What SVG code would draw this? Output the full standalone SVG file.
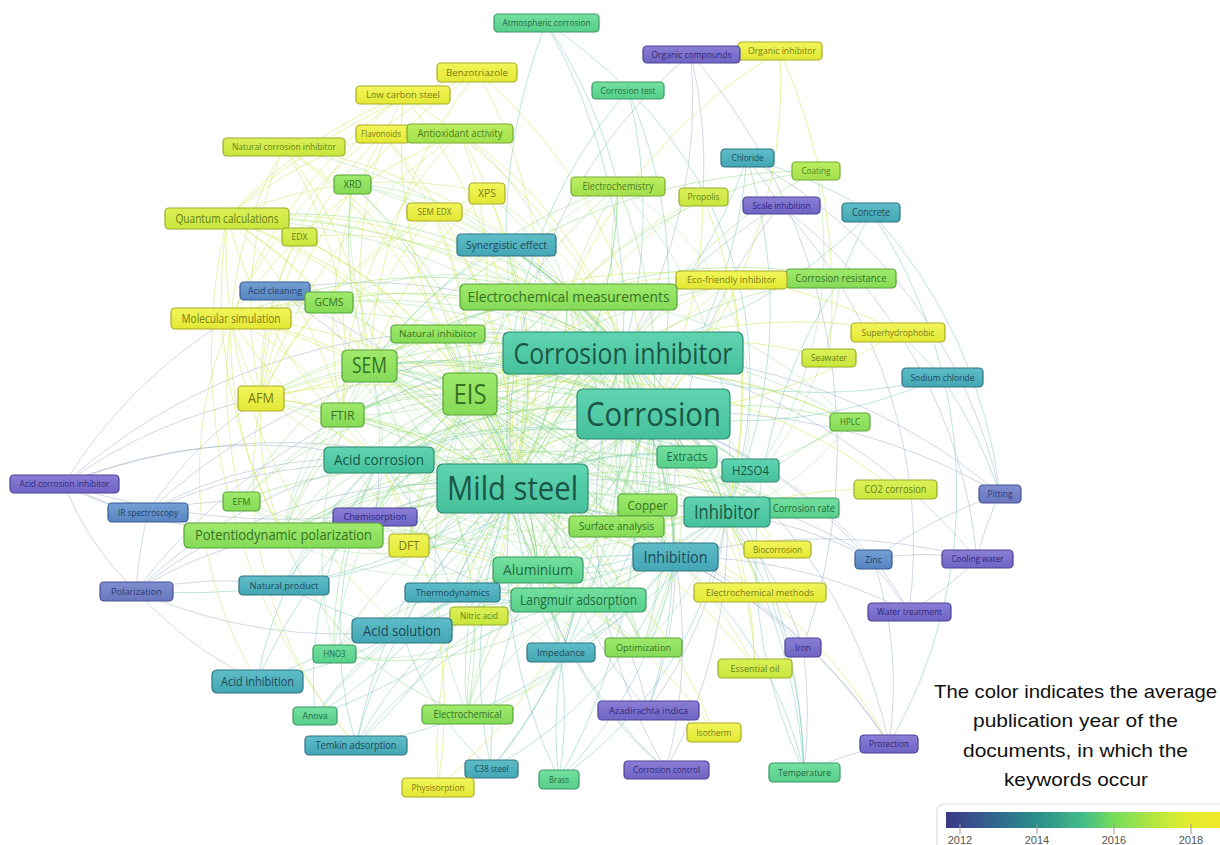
<svg xmlns="http://www.w3.org/2000/svg" width="1220" height="845" viewBox="0 0 1220 845">
<defs>
<style>
.e path{fill:none;stroke-width:1}
.ey{stroke:#cfe84c;stroke-opacity:.5}
.ey2{stroke:#c2e252;stroke-opacity:.42}
.eg{stroke:#7fd46a;stroke-opacity:.42}
.eg2{stroke:#74cf78;stroke-opacity:.32}
.eg3{stroke:#86d870;stroke-opacity:.3}
.et{stroke:#58b8aa;stroke-opacity:.38}
.eb{stroke:#8ea2c4;stroke-opacity:.42}
.n rect{stroke-width:1.2}
.n text{font-family:"Open Sans","Liberation Sans",sans-serif;text-anchor:middle}
.Y rect{fill:url(#gY);stroke:#a9ab26}.Y text{fill:#7a7c16}
.YG rect{fill:url(#gYG);stroke:#95ad2a}.YG text{fill:#667f18}
.LG rect{fill:url(#gLG);stroke:#76aa34}.LG text{fill:#4a801c}
.G rect{fill:url(#gG);stroke:#58a43a}.G text{fill:#357222}
.SG rect{fill:url(#gSG);stroke:#3a9864}.SG text{fill:#1f6a40}
.T rect{fill:url(#gT);stroke:#2f8a72}.T text{fill:#1a5646}
.TB rect{fill:url(#gTB);stroke:#2e7482}.TB text{fill:#1c4a58}
.B rect{fill:url(#gB);stroke:#3a5c90}.B text{fill:#243e68}
.BP rect{fill:url(#gBP);stroke:#465294}.BP text{fill:#2c376e}
.P rect{fill:url(#gP);stroke:#4b4296}.P text{fill:#2e2676}
.lg{font-family:"Liberation Sans","Open Sans",sans-serif;font-size:19px;fill:#111;text-anchor:middle}
.tk{font-family:"Liberation Sans",sans-serif;font-size:11px;fill:#555;text-anchor:middle}
</style>
<linearGradient id="gY" x1="0" y1="0" x2="0" y2="1"><stop offset="0" stop-color="#f2f55a"/><stop offset="1" stop-color="#e2e834"/></linearGradient>
<linearGradient id="gYG" x1="0" y1="0" x2="0" y2="1"><stop offset="0" stop-color="#dcf058"/><stop offset="1" stop-color="#c8e63c"/></linearGradient>
<linearGradient id="gLG" x1="0" y1="0" x2="0" y2="1"><stop offset="0" stop-color="#bcee62"/><stop offset="1" stop-color="#a2e04a"/></linearGradient>
<linearGradient id="gG" x1="0" y1="0" x2="0" y2="1"><stop offset="0" stop-color="#a0ea6c"/><stop offset="1" stop-color="#84da56"/></linearGradient>
<linearGradient id="gSG" x1="0" y1="0" x2="0" y2="1"><stop offset="0" stop-color="#74e0a0"/><stop offset="1" stop-color="#56cf8a"/></linearGradient>
<linearGradient id="gT" x1="0" y1="0" x2="0" y2="1"><stop offset="0" stop-color="#5fd4b0"/><stop offset="1" stop-color="#46c09c"/></linearGradient>
<linearGradient id="gTB" x1="0" y1="0" x2="0" y2="1"><stop offset="0" stop-color="#5ebdc8"/><stop offset="1" stop-color="#44a6b4"/></linearGradient>
<linearGradient id="gB" x1="0" y1="0" x2="0" y2="1"><stop offset="0" stop-color="#72a0d4"/><stop offset="1" stop-color="#5684c0"/></linearGradient>
<linearGradient id="gBP" x1="0" y1="0" x2="0" y2="1"><stop offset="0" stop-color="#808ed0"/><stop offset="1" stop-color="#6876be"/></linearGradient>
<linearGradient id="gP" x1="0" y1="0" x2="0" y2="1"><stop offset="0" stop-color="#8a7ed6"/><stop offset="1" stop-color="#7064c4"/></linearGradient>
<linearGradient id="gBar" gradientUnits="userSpaceOnUse" x1="946" y1="0" x2="1220" y2="0"><stop offset="0" stop-color="#3c3a84"/><stop offset="0.12" stop-color="#35578e"/><stop offset="0.33" stop-color="#2a8e8a"/><stop offset="0.5" stop-color="#44bc88"/><stop offset="0.61" stop-color="#74dc5a"/><stop offset="0.8" stop-color="#c6ea3a"/><stop offset="0.9" stop-color="#e6ea2e"/><stop offset="1" stop-color="#f0ea28"/></linearGradient>
</defs>
<rect width="1220" height="845" fill="#fff"/>
<g id="connectors" class="e">
<path class="eb" d="M64 484A500 500 0 0 1 261 398M64 484A500 500 0 0 1 231 318M64 484A300 300 0 0 0 136 591M64 484A200 200 0 0 0 148 512M64 484A600 600 0 0 1 623 353M64 484A600 600 0 0 1 512 488M64 484A700 700 0 0 0 653 414M64 484A500 500 0 0 1 379 460M64 484A500 500 0 0 0 283 535M148 512A400 400 0 0 1 261 398M148 512A400 400 0 0 1 379 460M148 512A500 500 0 0 1 512 488M148 512A500 500 0 0 0 283 535M148 512A500 500 0 0 0 136 591M148 512A400 400 0 0 1 241 501M148 512A600 600 0 0 1 623 353M136 591A500 500 0 0 1 379 460M136 591A500 500 0 0 1 512 488M136 591A400 400 0 0 1 283 535M136 591A400 400 0 0 0 257 681M136 591A400 400 0 0 1 284 585M136 591A600 600 0 0 1 623 353M136 591A500 500 0 0 0 402 630M275 291A500 500 0 0 1 512 488M275 291A400 400 0 0 1 370 366M275 291A500 500 0 0 1 623 353M375 517A300 300 0 0 1 512 488M375 517A300 300 0 0 0 379 460M375 517A300 300 0 0 0 578 600M691 54A600 600 0 0 1 803 647M691 54A500 500 0 0 1 623 353M691 54A500 500 0 0 1 703 197M691 54A500 500 0 0 0 512 488M780 205A500 500 0 0 0 747 158M780 205A500 500 0 0 1 977 559M780 205A500 500 0 0 1 909 612M780 205A500 500 0 0 0 623 353M780 205A500 500 0 0 0 675 557M1000 494A500 500 0 0 0 873 559M1000 494A300 300 0 0 0 977 559M1000 494A500 500 0 0 0 747 158M1000 494A600 600 0 0 0 653 414M1000 494A600 600 0 0 0 623 353M873 559A300 300 0 0 1 977 559M873 559A300 300 0 0 1 909 612M873 559A400 400 0 0 1 889 744M873 559A500 500 0 0 0 653 414M873 559A500 500 0 0 0 727 512M873 559A500 500 0 0 0 512 488M977 559A300 300 0 0 1 909 612M977 559A600 600 0 0 0 623 353M977 559A600 600 0 0 0 675 557M909 612A500 500 0 0 0 653 414M909 612A500 500 0 0 0 675 557M889 744A500 500 0 0 0 653 414M889 744A500 500 0 0 0 675 557M889 744A600 600 0 0 0 512 488M889 744A500 500 0 0 0 804 772M803 647A400 400 0 0 0 727 512M803 647A400 400 0 0 0 675 557M803 647A500 500 0 0 1 804 772M648 710A400 400 0 0 0 512 488M648 710A400 400 0 0 0 727 512M648 710A400 400 0 0 1 578 600M648 710A400 400 0 0 0 675 557M666 770A500 500 0 0 0 675 557M666 770A500 500 0 0 0 727 512M666 770A500 500 0 0 1 512 488M666 770A500 500 0 0 1 623 353"/>
<path class="et" d="M623 353A600 600 0 0 0 546 23M623 353A500 500 0 0 0 628 90M623 353A500 500 0 0 0 747 158M623 353A500 500 0 0 0 871 212M623 353A600 600 0 0 1 804 772M623 353A600 600 0 0 1 559 779M623 353A600 600 0 0 1 491 769M623 353A500 500 0 0 0 506 245M623 353A600 600 0 0 0 284 585M623 353A600 600 0 0 0 257 681M623 353A600 600 0 0 0 356 745M623 353A500 500 0 0 0 942 377M653 414A500 500 0 0 0 942 377M653 414A600 600 0 0 1 804 772M653 414A500 500 0 0 1 648 710M653 414A600 600 0 0 1 315 716M653 414A700 700 0 0 1 136 591M512 488A500 500 0 0 1 284 585M512 488A500 500 0 0 1 257 681M512 488A500 500 0 0 1 315 716M512 488A500 500 0 0 1 356 745M512 488A500 500 0 0 0 491 769M512 488A500 500 0 0 0 559 779M512 488A400 400 0 0 0 561 652M512 488A400 400 0 0 0 452 592M512 488A400 400 0 0 0 402 630M512 488A300 300 0 0 1 687 457M512 488A300 300 0 0 1 750 470M379 460A400 400 0 0 0 284 585M379 460A400 400 0 0 0 257 681M379 460A400 400 0 0 0 315 716M379 460A400 400 0 0 0 356 745M379 460A400 400 0 0 1 452 592M379 460A400 400 0 0 1 687 457M379 460A500 500 0 0 1 750 470M402 630A400 400 0 0 1 257 681M402 630A400 400 0 0 0 356 745M402 630A300 300 0 0 0 315 716M402 630A400 400 0 0 1 284 585M402 630A300 300 0 0 0 491 769M402 630A400 400 0 0 1 578 600M402 630A400 400 0 0 1 675 557M538 570A400 400 0 0 0 402 630M538 570A400 400 0 0 0 315 716M538 570A400 400 0 0 0 356 745M538 570A400 400 0 0 0 491 769M538 570A400 400 0 0 1 559 779M538 570A400 400 0 0 0 666 770M578 600A400 400 0 0 0 356 745M578 600A400 400 0 0 1 491 769M578 600A400 400 0 0 0 559 779M578 600A400 400 0 0 1 452 592M578 600A400 400 0 0 0 561 652M675 557A400 400 0 0 0 506 245M675 557A400 400 0 0 1 804 772M675 557A400 400 0 0 1 561 652M675 557A400 400 0 0 1 559 779M675 557A400 400 0 0 1 491 769M675 557A500 500 0 0 1 356 745M727 512A400 400 0 0 0 628 90M727 512A500 500 0 0 0 747 158M727 512A500 500 0 0 1 804 772M727 512A400 400 0 0 1 559 779M727 512A400 400 0 0 1 561 652M727 512A400 400 0 0 1 452 592M727 512A300 300 0 0 1 538 570M546 23A500 500 0 0 1 618 186M546 23A600 600 0 0 0 506 245M546 23A500 500 0 0 1 628 90M628 90A500 500 0 0 1 653 414M628 90A500 500 0 0 0 512 488M747 158A500 500 0 0 1 871 212M747 158A500 500 0 0 1 653 414M871 212A500 500 0 0 1 1000 494M871 212A500 500 0 0 0 841 278M871 212A500 500 0 0 1 889 744M942 377A500 500 0 0 1 1000 494M942 377A500 500 0 0 0 898 332M804 772A500 500 0 0 1 841 278M506 245A400 400 0 0 1 512 488M506 245A400 400 0 0 1 653 414M506 245A400 400 0 0 0 370 366M506 245A500 500 0 0 1 727 512M561 652A300 300 0 0 0 653 414M452 592A300 300 0 0 1 653 414M750 470A300 300 0 0 0 653 414M687 457A300 300 0 0 0 623 353"/>
<path class="eg" d="M370 366A400 400 0 0 1 512 488M370 366A300 300 0 0 1 470 394M342 415A400 400 0 0 1 512 488M342 415A400 400 0 0 1 470 394M352 184A500 500 0 0 1 512 488M352 184A400 400 0 0 1 470 394M352 184A400 400 0 0 0 370 366M329 302A400 400 0 0 1 512 488M329 302A400 400 0 0 1 623 353M438 334A400 400 0 0 1 512 488M438 334A400 400 0 0 1 653 414M568 297A400 400 0 0 1 512 488M568 297A400 400 0 0 0 470 394M568 297A400 400 0 0 0 370 366M568 297A400 400 0 0 1 727 512M568 297A400 400 0 0 1 578 600M568 297A400 400 0 0 0 283 535M568 297A500 500 0 0 0 231 318M568 297A500 500 0 0 0 227 218M568 297A400 400 0 0 1 538 570M470 394A400 400 0 0 1 653 414M470 394A400 400 0 0 1 623 353M470 394A400 400 0 0 1 512 488M470 394A400 400 0 0 0 283 535M470 394A400 400 0 0 0 375 517M470 394A400 400 0 0 1 578 600M470 394A500 500 0 0 1 643 647M470 394A500 500 0 0 1 850 422M470 394A600 600 0 0 1 841 278M470 394A500 500 0 0 1 618 186M618 186A500 500 0 0 1 512 488M618 186A500 500 0 0 1 653 414M618 186A500 500 0 0 0 370 366M283 535A500 500 0 0 1 727 512M283 535A500 500 0 0 1 675 557M283 535A500 500 0 0 1 792 508M283 535A400 400 0 0 1 578 600M283 535A400 400 0 0 1 512 488M283 535A400 400 0 0 1 653 414M283 535A300 300 0 0 0 467 714M241 501A400 400 0 0 1 512 488M241 501A400 400 0 0 1 470 394M241 501A400 400 0 0 1 370 366M647 505A400 400 0 0 0 512 488M647 505A400 400 0 0 0 470 394M647 505A400 400 0 0 1 727 512M616 526A400 400 0 0 0 512 488M616 526A400 400 0 0 0 370 366M616 526A400 400 0 0 1 653 414M643 647A400 400 0 0 0 512 488M643 647A400 400 0 0 1 578 600M643 647A400 400 0 0 0 675 557M467 714A400 400 0 0 1 512 488M467 714A400 400 0 0 1 578 600M467 714A400 400 0 0 0 370 366M467 714A400 400 0 0 1 538 570M334 654A400 400 0 0 1 512 488M334 654A400 400 0 0 1 379 460M334 654A400 400 0 0 1 538 570M334 654A300 300 0 0 0 578 600M841 278A500 500 0 0 0 623 353M841 278A500 500 0 0 0 568 297M816 171A500 500 0 0 0 623 353M816 171A600 600 0 0 0 370 366M816 171A400 400 0 0 0 568 297M850 422A400 400 0 0 0 653 414M850 422A400 400 0 0 0 727 512M792 508A400 400 0 0 0 653 414M792 508A400 400 0 0 0 512 488M538 570A300 300 0 0 0 512 488M578 600A300 300 0 0 0 512 488M578 600A300 300 0 0 0 653 414M578 600A300 300 0 0 1 675 557M379 460A300 300 0 0 1 512 488M379 460A300 300 0 0 1 470 394M379 460A400 400 0 0 1 653 414M379 460A500 500 0 0 1 727 512M370 366A500 500 0 0 1 653 414M370 366A500 500 0 0 1 623 353M512 488A400 400 0 0 1 623 353M512 488A400 400 0 0 0 653 414M623 353A300 300 0 0 1 653 414M623 353A400 400 0 0 1 727 512M653 414A300 300 0 0 1 727 512M653 414A400 400 0 0 1 675 557M512 488A400 400 0 0 0 675 557M512 488A400 400 0 0 0 727 512M438 334A300 300 0 0 0 370 366M438 334A300 300 0 0 1 470 394M438 334A400 400 0 0 0 283 535M568 297A300 300 0 0 1 653 414M568 297A300 300 0 0 1 623 353M470 394A300 300 0 0 1 538 570M470 394A300 300 0 0 1 647 505M370 366A400 400 0 0 1 578 600M370 366A400 400 0 0 1 538 570M342 415A400 400 0 0 1 578 600M342 415A400 400 0 0 1 653 414"/>
<path class="eg2" d="M623 353A450 450 0 0 0 342 415M623 353A450 450 0 0 0 261 398M623 353A450 450 0 0 0 352 184M623 353A350 350 0 0 0 438 334M623 353A450 450 0 0 1 283 535M623 353A350 350 0 0 0 379 460M623 353A250 250 0 0 1 647 505M623 353A300 300 0 0 1 616 526M623 353A400 400 0 0 0 578 600M623 353A400 400 0 0 0 538 570M623 353A400 400 0 0 1 643 647M623 353A400 400 0 0 1 850 422M623 353A400 400 0 0 1 618 186M623 353A500 500 0 0 0 467 714M623 353A500 500 0 0 0 241 501M623 353A600 600 0 0 0 227 218M623 353A600 600 0 0 0 231 318M623 353A600 600 0 0 0 284 147M623 353A300 300 0 0 1 687 457M623 353A300 300 0 0 1 750 470M623 353A400 400 0 0 0 409 545M623 353A400 400 0 0 0 375 517M623 353A400 400 0 0 0 561 652M623 353A400 400 0 0 0 402 630M653 414A450 450 0 0 0 370 366M653 414A450 450 0 0 0 261 398M653 414A450 450 0 0 0 329 302M653 414A500 500 0 0 0 352 184M653 414A300 300 0 0 0 647 505M653 414A300 300 0 0 0 616 526M653 414A400 400 0 0 0 538 570M653 414A400 400 0 0 1 643 647M653 414A300 300 0 0 1 687 457M653 414A300 300 0 0 1 750 470M653 414A400 400 0 0 0 409 545M653 414A400 400 0 0 0 375 517M653 414A400 400 0 0 0 402 630M653 414A500 500 0 0 0 467 714M653 414A600 600 0 0 0 227 218M653 414A600 600 0 0 0 231 318M653 414A450 450 0 0 0 438 334M512 488A300 300 0 0 0 438 334M512 488A300 300 0 0 0 409 545M512 488A300 300 0 0 0 375 517M512 488A300 300 0 0 1 538 570M512 488A300 300 0 0 1 578 600M512 488A400 400 0 0 0 568 297M512 488A400 400 0 0 1 643 647M512 488A400 400 0 0 1 616 526M512 488A500 500 0 0 0 792 508M512 488A500 500 0 0 0 850 422M512 488A500 500 0 0 0 618 186M512 488A300 300 0 0 0 342 415M512 488A300 300 0 0 0 283 535M512 488A300 300 0 0 1 241 501M470 394A300 300 0 0 0 342 415M470 394A300 300 0 0 1 261 398M470 394A300 300 0 0 0 409 545M470 394A300 300 0 0 1 538 570M470 394A300 300 0 0 1 616 526M470 394A400 400 0 0 0 467 714M470 394A400 400 0 0 1 727 512M470 394A400 400 0 0 1 675 557M470 394A400 400 0 0 0 334 654M370 366A300 300 0 0 0 342 415M370 366A300 300 0 0 1 409 545M370 366A300 300 0 0 1 375 517M370 366A400 400 0 0 1 727 512M370 366A400 400 0 0 1 616 526M370 366A400 400 0 0 1 647 505M370 366A500 500 0 0 1 643 647M370 366A400 400 0 0 0 334 654M370 366A400 400 0 0 1 568 297M379 460A300 300 0 0 0 342 415M379 460A300 300 0 0 0 370 366M379 460A400 400 0 0 1 578 600M379 460A400 400 0 0 1 538 570M379 460A400 400 0 0 1 623 353M379 460A400 400 0 0 1 675 557M379 460A500 500 0 0 1 647 505M727 512A300 300 0 0 0 647 505M727 512A300 300 0 0 1 616 526M727 512A400 400 0 0 1 578 600M727 512A400 400 0 0 1 643 647M727 512A400 400 0 0 0 618 186M727 512A400 400 0 0 0 841 278M727 512A400 400 0 0 0 816 171M675 557A300 300 0 0 0 647 505M675 557A300 300 0 0 0 616 526M675 557A300 300 0 0 1 538 570M675 557A400 400 0 0 0 568 297M675 557A400 400 0 0 0 470 394M675 557A400 400 0 0 0 370 366M578 600A300 300 0 0 0 470 394M578 600A300 300 0 0 0 409 545M578 600A300 300 0 0 0 616 526M578 600A300 300 0 0 0 647 505M578 600A300 300 0 0 1 643 647M578 600A400 400 0 0 0 727 512M538 570A300 300 0 0 0 470 394M538 570A300 300 0 0 1 616 526M538 570A400 400 0 0 0 370 366M538 570A400 400 0 0 0 283 535M568 297A300 300 0 0 0 438 334M568 297A300 300 0 0 0 329 302M568 297A300 300 0 0 0 352 184M568 297A300 300 0 0 0 342 415M568 297A400 400 0 0 1 647 505M568 297A400 400 0 0 1 616 526M568 297A400 400 0 0 0 409 545M568 297A400 400 0 0 1 850 422M568 297A400 400 0 0 1 618 186M568 297A300 300 0 0 0 487 193M568 297A300 300 0 0 0 460 133M283 535A300 300 0 0 1 409 545M283 535A300 300 0 0 1 375 517M283 535A300 300 0 0 1 452 592M283 535A300 300 0 0 1 342 415M283 535A300 300 0 0 1 370 366M283 535A400 400 0 0 0 241 501"/>
<path class="eg3" d="M512 488A200 200 0 0 1 623 353M512 488A200 200 0 0 0 623 353M470 394A200 200 0 0 1 653 414M470 394A180 180 0 0 0 653 414M370 366A250 250 0 0 0 653 414M379 460A250 250 0 0 0 653 414M379 460A250 250 0 0 0 623 353M568 297A200 200 0 0 0 512 488M568 297A200 200 0 0 1 470 394M568 297A250 250 0 0 0 578 600M578 600A200 200 0 0 1 623 353M538 570A200 200 0 0 1 623 353M538 570A250 250 0 0 1 653 414M675 557A200 200 0 0 1 623 353M727 512A200 200 0 0 0 623 353M647 505A200 200 0 0 1 470 394M616 526A200 200 0 0 1 470 394M616 526A200 200 0 0 0 623 353M438 334A200 200 0 0 0 623 353M438 334A250 250 0 0 0 653 414M342 415A250 250 0 0 0 623 353M342 415A250 250 0 0 1 538 570M370 366A250 250 0 0 1 538 570M409 545A200 200 0 0 0 623 353M409 545A200 200 0 0 1 653 414M375 517A200 200 0 0 0 653 414M452 592A200 200 0 0 0 623 353M402 630A250 250 0 0 0 623 353M402 630A250 250 0 0 0 653 414M402 630A200 200 0 0 0 470 394M561 652A200 200 0 0 1 470 394M643 647A200 200 0 0 1 470 394M643 647A250 250 0 0 0 623 353M687 457A200 200 0 0 1 470 394M750 470A250 250 0 0 1 470 394M750 470A250 250 0 0 1 379 460M687 457A200 200 0 0 1 379 460M283 535A250 250 0 0 0 623 353M283 535A250 250 0 0 0 653 414M283 535A250 250 0 0 0 470 394M241 501A250 250 0 0 0 623 353M329 302A250 250 0 0 0 512 488M352 184A300 300 0 0 0 512 488M506 245A200 200 0 0 1 512 488M506 245A200 200 0 0 0 653 414M506 245A200 200 0 0 1 379 460M618 186A250 250 0 0 0 470 394M618 186A250 250 0 0 1 727 512M792 508A200 200 0 0 1 623 353M850 422A250 250 0 0 1 512 488M467 714A250 250 0 0 0 623 353M467 714A250 250 0 0 0 653 414M334 654A250 250 0 0 0 623 353M479 616A200 200 0 0 0 623 353M479 616A200 200 0 0 0 470 394"/>
<path class="ey" d="M231 318A500 500 0 0 1 512 488M227 218A500 500 0 0 1 512 488M227 218A500 500 0 0 1 470 394M231 318A500 500 0 0 1 470 394M261 398A500 500 0 0 1 512 488M261 398A500 500 0 0 1 470 394M261 398A400 400 0 0 0 370 366M227 218A400 400 0 0 1 370 366M231 318A400 400 0 0 1 370 366M284 147A500 500 0 0 1 512 488M284 147A500 500 0 0 1 470 394M284 147A400 400 0 0 1 370 366M403 95A500 500 0 0 1 512 488M403 95A500 500 0 0 0 470 394M403 95A600 600 0 0 1 653 414M403 95A500 500 0 0 0 227 218M403 95A500 500 0 0 0 231 318M477 72A500 500 0 0 1 653 414M477 72A500 500 0 0 0 370 366M477 72A500 500 0 0 0 261 398M477 72A600 600 0 0 0 227 218M383 134A500 500 0 0 1 512 488M383 134A400 400 0 0 0 261 398M460 133A500 500 0 0 1 512 488M460 133A400 400 0 0 1 623 353M460 133A500 500 0 0 0 231 318M487 193A400 400 0 0 1 512 488M487 193A400 400 0 0 0 370 366M434 212A400 400 0 0 1 512 488M434 212A400 400 0 0 0 261 398M299 237A400 400 0 0 1 512 488M299 237A400 400 0 0 1 470 394M731 280A500 500 0 0 0 470 394M731 280A500 500 0 0 1 727 512M731 280A400 400 0 0 1 653 414M780 51A500 500 0 0 1 653 414M780 51A600 600 0 0 1 829 358M780 51A500 500 0 0 0 568 297M898 332A500 500 0 0 0 623 353M898 332A500 500 0 0 1 653 414M898 332A500 500 0 0 0 370 366M777 549A400 400 0 0 0 653 414M777 549A500 500 0 0 0 470 394M760 592A500 500 0 0 0 512 488M760 592A500 500 0 0 0 653 414M760 592A500 500 0 0 1 889 744M755 668A500 500 0 0 0 512 488M755 668A500 500 0 0 0 727 512M714 732A500 500 0 0 0 512 488M714 732A500 500 0 0 0 578 600M438 787A500 500 0 0 1 512 488M438 787A500 500 0 0 0 379 460M438 787A500 500 0 0 0 578 600M409 545A400 400 0 0 1 470 394M409 545A400 400 0 0 0 379 460M409 545A400 400 0 0 1 578 600M479 616A400 400 0 0 0 512 488M479 616A400 400 0 0 1 727 512M703 197A500 500 0 0 1 653 414M703 197A500 500 0 0 1 727 512M895 489A500 500 0 0 0 470 394M895 489A500 500 0 0 0 727 512M829 358A500 500 0 0 0 470 394M850 422A500 500 0 0 0 470 394M227 218A500 500 0 0 0 283 535M231 318A400 400 0 0 0 283 535M227 218A500 500 0 0 0 379 460M261 398A300 300 0 0 0 283 535M231 318A400 400 0 0 0 379 460"/>
<path class="ey2" d="M227 218A400 400 0 0 1 342 415M227 218A400 400 0 0 1 329 302M227 218A300 300 0 0 1 299 237M227 218A500 500 0 0 1 623 353M227 218A500 500 0 0 1 653 414M231 318A300 300 0 0 1 342 415M231 318A300 300 0 0 1 329 302M231 318A500 500 0 0 1 623 353M231 318A300 300 0 0 0 261 398M231 318A500 500 0 0 0 241 501M284 147A400 400 0 0 1 342 415M284 147A400 400 0 0 0 231 318M284 147A400 400 0 0 0 261 398M284 147A500 500 0 0 1 623 353M383 134A400 400 0 0 1 470 394M383 134A400 400 0 0 0 342 415M383 134A400 400 0 0 0 227 218M460 133A400 400 0 0 1 470 394M460 133A500 500 0 0 0 261 398M460 133A400 400 0 0 0 342 415M487 193A400 400 0 0 0 261 398M487 193A400 400 0 0 1 653 414M487 193A400 400 0 0 0 227 218M434 212A400 400 0 0 1 470 394M434 212A400 400 0 0 1 623 353M434 212A400 400 0 0 0 342 415M299 237A300 300 0 0 0 261 398M299 237A400 400 0 0 1 623 353M403 95A400 400 0 0 0 261 398M403 95A400 400 0 0 0 370 366M477 72A500 500 0 0 1 512 488M477 72A500 500 0 0 0 231 318M261 398A300 300 0 0 1 342 415M261 398A400 400 0 0 1 379 460M261 398A400 400 0 0 1 409 545M261 398A500 500 0 0 1 623 353M261 398A500 500 0 0 1 653 414M409 545A300 300 0 0 1 512 488M409 545A400 400 0 0 1 623 353M409 545A400 400 0 0 1 653 414M731 280A400 400 0 0 0 568 297M731 280A400 400 0 0 1 623 353M731 280A400 400 0 0 0 512 488M703 197A400 400 0 0 0 568 297M703 197A400 400 0 0 0 512 488M760 592A400 400 0 0 0 727 512M760 592A400 400 0 0 0 675 557M755 668A400 400 0 0 0 653 414M755 668A400 400 0 0 0 675 557M231 318A400 400 0 0 0 257 681M227 218A500 500 0 0 0 402 630M261 398A400 400 0 0 0 356 745M227 218A600 600 0 0 0 356 745"/>
</g>
<g id="nodes">
<g id="n-atmospheric-corrosion" class="n SG"><rect x="494" y="14" width="105" height="18" rx="4"/><text x="546.5" y="26.3" font-size="9.5" textLength="88" lengthAdjust="spacingAndGlyphs">Atmospheric corrosion</text></g>
<g id="n-organic-inhibitor" class="n Y"><rect x="738" y="42" width="84" height="18" rx="4"/><text x="782" y="54.3" font-size="9.5" textLength="68" lengthAdjust="spacingAndGlyphs">Organic inhibitor</text></g>
<g id="n-organic-compounds" class="n P"><rect x="643" y="46" width="97" height="17" rx="4"/><text x="691.5" y="57.8" font-size="9.5" textLength="80" lengthAdjust="spacingAndGlyphs">Organic compounds</text></g>
<g id="n-benzotriazole" class="n Y"><rect x="437" y="63" width="80" height="19" rx="4"/><text x="477" y="75.8" font-size="9.5" textLength="62" lengthAdjust="spacingAndGlyphs">Benzotriazole</text></g>
<g id="n-low-carbon-steel" class="n Y"><rect x="356" y="86" width="94" height="18" rx="4"/><text x="403" y="98.3" font-size="9.5" textLength="74" lengthAdjust="spacingAndGlyphs">Low carbon steel</text></g>
<g id="n-corrosion-test" class="n SG"><rect x="592" y="82" width="72" height="17" rx="4"/><text x="628" y="93.8" font-size="9.5" textLength="55" lengthAdjust="spacingAndGlyphs">Corrosion test</text></g>
<g id="n-flavonoids" class="n Y"><rect x="356" y="125" width="54" height="18" rx="4"/><text x="381" y="137.3" font-size="9.5" textLength="40" lengthAdjust="spacingAndGlyphs">Flavonoids</text></g>
<g id="n-antioxidant-activity" class="n LG"><rect x="407" y="124" width="106" height="19" rx="4"/><text x="460" y="137.2" font-size="10.5" textLength="85" lengthAdjust="spacingAndGlyphs">Antioxidant activity</text></g>
<g id="n-natural-corrosion-inhibitor" class="n YG"><rect x="223" y="138" width="122" height="18" rx="4"/><text x="284" y="150.3" font-size="9.5" textLength="104" lengthAdjust="spacingAndGlyphs">Natural corrosion inhibitor</text></g>
<g id="n-chloride" class="n TB"><rect x="721" y="149" width="53" height="18" rx="4"/><text x="747.5" y="161.3" font-size="9.5" textLength="32" lengthAdjust="spacingAndGlyphs">Chloride</text></g>
<g id="n-coating" class="n LG"><rect x="792" y="162" width="48" height="18" rx="4"/><text x="816" y="174.3" font-size="9.5" textLength="29" lengthAdjust="spacingAndGlyphs">Coating</text></g>
<g id="n-xrd" class="n G"><rect x="334" y="175" width="37" height="19" rx="4"/><text x="352.5" y="188" font-size="10" textLength="18" lengthAdjust="spacingAndGlyphs">XRD</text></g>
<g id="n-xps" class="n Y"><rect x="469" y="183" width="36" height="21" rx="4"/><text x="487" y="197.4" font-size="11" textLength="18" lengthAdjust="spacingAndGlyphs">XPS</text></g>
<g id="n-electrochemistry" class="n LG"><rect x="571" y="177" width="94" height="19" rx="4"/><text x="618" y="190.2" font-size="10.5" textLength="71" lengthAdjust="spacingAndGlyphs">Electrochemistry</text></g>
<g id="n-propolis" class="n YG"><rect x="679" y="188" width="49" height="18" rx="4"/><text x="703.5" y="200.3" font-size="9.5" textLength="32" lengthAdjust="spacingAndGlyphs">Propolis</text></g>
<g id="n-scale-inhibition" class="n P"><rect x="743" y="197" width="77" height="17" rx="4"/><text x="781.5" y="208.8" font-size="9.5" textLength="58" lengthAdjust="spacingAndGlyphs">Scale inhibition</text></g>
<g id="n-concrete" class="n TB"><rect x="842" y="203" width="58" height="19" rx="4"/><text x="871" y="216" font-size="10" textLength="38" lengthAdjust="spacingAndGlyphs">Concrete</text></g>
<g id="n-sem-edx" class="n Y"><rect x="407" y="203" width="55" height="18" rx="4"/><text x="434.5" y="215.3" font-size="9.5" textLength="34" lengthAdjust="spacingAndGlyphs">SEM EDX</text></g>
<g id="n-quantum-calculations" class="n YG"><rect x="165" y="208" width="124" height="21" rx="4"/><text x="227" y="222.7" font-size="12" textLength="103" lengthAdjust="spacingAndGlyphs">Quantum calculations</text></g>
<g id="n-edx" class="n YG"><rect x="282" y="228" width="35" height="18" rx="4"/><text x="299.5" y="240.3" font-size="9.5" textLength="16" lengthAdjust="spacingAndGlyphs">EDX</text></g>
<g id="n-synergistic-effect" class="n TB"><rect x="457" y="234" width="99" height="22" rx="4"/><text x="506.5" y="249" font-size="11.5" textLength="81" lengthAdjust="spacingAndGlyphs">Synergistic effect</text></g>
<g id="n-corrosion-resistance" class="n G"><rect x="786" y="269" width="110" height="19" rx="4"/><text x="841" y="282" font-size="10" textLength="91" lengthAdjust="spacingAndGlyphs">Corrosion resistance</text></g>
<g id="n-eco-friendly-inhibitor" class="n Y"><rect x="676" y="271" width="111" height="18" rx="4"/><text x="731.5" y="283.3" font-size="9.5" textLength="89" lengthAdjust="spacingAndGlyphs">Eco-friendly inhibitor</text></g>
<g id="n-acid-cleaning" class="n B"><rect x="240" y="282" width="70" height="18" rx="4"/><text x="275" y="294.2" font-size="9" textLength="54" lengthAdjust="spacingAndGlyphs">Acid cleaning</text></g>
<g id="n-gcms" class="n G"><rect x="305" y="292" width="48" height="21" rx="4"/><text x="329" y="306.4" font-size="11" textLength="29" lengthAdjust="spacingAndGlyphs">GCMS</text></g>
<g id="n-electrochemical-measurements" class="n G"><rect x="460" y="284" width="217" height="26" rx="5"/><text x="568.5" y="302.3" font-size="15" textLength="202" lengthAdjust="spacingAndGlyphs">Electrochemical measurements</text></g>
<g id="n-molecular-simulation" class="n Y"><rect x="171" y="308" width="120" height="21" rx="4"/><text x="231" y="322.7" font-size="12" textLength="99" lengthAdjust="spacingAndGlyphs">Molecular simulation</text></g>
<g id="n-natural-inhibitor" class="n G"><rect x="391" y="325" width="94" height="18" rx="4"/><text x="438" y="337.3" font-size="9.5" textLength="78" lengthAdjust="spacingAndGlyphs">Natural inhibitor</text></g>
<g id="n-superhydrophobic" class="n Y"><rect x="851" y="323" width="94" height="19" rx="4"/><text x="898" y="335.8" font-size="9.5" textLength="73" lengthAdjust="spacingAndGlyphs">Superhydrophobic</text></g>
<g id="n-corrosion-inhibitor" class="n T"><rect x="503" y="332" width="240" height="42" rx="6"/><text x="623" y="363.5" font-size="30" textLength="219" lengthAdjust="spacingAndGlyphs">Corrosion inhibitor</text></g>
<g id="n-sem" class="n G"><rect x="342" y="350" width="55" height="32" rx="5"/><text x="369.5" y="373.4" font-size="21" textLength="35" lengthAdjust="spacingAndGlyphs">SEM</text></g>
<g id="n-seawater" class="n YG"><rect x="802" y="349" width="54" height="18" rx="4"/><text x="829" y="361.3" font-size="9.5" textLength="36" lengthAdjust="spacingAndGlyphs">Seawater</text></g>
<g id="n-sodium-chloride" class="n TB"><rect x="902" y="368" width="81" height="19" rx="4"/><text x="942.5" y="380.8" font-size="9.5" textLength="64" lengthAdjust="spacingAndGlyphs">Sodium chloride</text></g>
<g id="n-eis" class="n G"><rect x="443" y="373" width="54" height="42" rx="5"/><text x="470" y="403.8" font-size="28" textLength="33" lengthAdjust="spacingAndGlyphs">EIS</text></g>
<g id="n-afm" class="n Y"><rect x="238" y="386" width="46" height="25" rx="4"/><text x="261" y="403.4" font-size="14" textLength="26" lengthAdjust="spacingAndGlyphs">AFM</text></g>
<g id="n-corrosion" class="n T"><rect x="577" y="389" width="153" height="50" rx="6"/><text x="653.5" y="425.5" font-size="33" textLength="135" lengthAdjust="spacingAndGlyphs">Corrosion</text></g>
<g id="n-ftir" class="n G"><rect x="321" y="403" width="43" height="24" rx="4"/><text x="342.5" y="419.6" font-size="13" textLength="24" lengthAdjust="spacingAndGlyphs">FTIR</text></g>
<g id="n-hplc" class="n G"><rect x="830" y="413" width="40" height="18" rx="4"/><text x="850" y="425.3" font-size="9.5" textLength="20" lengthAdjust="spacingAndGlyphs">HPLC</text></g>
<g id="n-acid-corrosion" class="n T"><rect x="324" y="447" width="110" height="26" rx="5"/><text x="379" y="465.3" font-size="15" textLength="90" lengthAdjust="spacingAndGlyphs">Acid corrosion</text></g>
<g id="n-extracts" class="n SG"><rect x="657" y="446" width="60" height="22" rx="4"/><text x="687" y="461.2" font-size="12" textLength="41" lengthAdjust="spacingAndGlyphs">Extracts</text></g>
<g id="n-h2so4" class="n T"><rect x="722" y="459" width="57" height="23" rx="4"/><text x="750.5" y="475.1" font-size="13" textLength="37" lengthAdjust="spacingAndGlyphs">H2SO4</text></g>
<g id="n-mild-steel" class="n T"><rect x="437" y="464" width="151" height="49" rx="6"/><text x="512.5" y="500" font-size="33" textLength="131" lengthAdjust="spacingAndGlyphs">Mild steel</text></g>
<g id="n-acid-corrosion-inhibitor" class="n P"><rect x="10" y="475" width="109" height="18" rx="4"/><text x="64.5" y="487.3" font-size="9.5" textLength="90" lengthAdjust="spacingAndGlyphs">Acid corrosion inhibitor</text></g>
<g id="n-co2-corrosion" class="n YG"><rect x="854" y="480" width="83" height="19" rx="4"/><text x="895.5" y="493" font-size="10" textLength="62" lengthAdjust="spacingAndGlyphs">CO2 corrosion</text></g>
<g id="n-pitting" class="n BP"><rect x="979" y="485" width="42" height="18" rx="4"/><text x="1000" y="497.3" font-size="9.5" textLength="25" lengthAdjust="spacingAndGlyphs">Pitting</text></g>
<g id="n-efm" class="n G"><rect x="223" y="492" width="37" height="19" rx="4"/><text x="241.5" y="504.8" font-size="9.5" textLength="18" lengthAdjust="spacingAndGlyphs">EFM</text></g>
<g id="n-copper" class="n G"><rect x="618" y="494" width="59" height="22" rx="4"/><text x="647.5" y="509.6" font-size="13" textLength="40" lengthAdjust="spacingAndGlyphs">Copper</text></g>
<g id="n-corrosion-rate" class="n SG"><rect x="745" y="498" width="94" height="20" rx="4"/><text x="804" y="511.6" font-size="10.5" textLength="62" lengthAdjust="spacingAndGlyphs">Corrosion rate</text></g>
<g id="n-inhibitor" class="n T"><rect x="684" y="497" width="86" height="30" rx="5"/><text x="727" y="519" font-size="20" textLength="66" lengthAdjust="spacingAndGlyphs">Inhibitor</text></g>
<g id="n-ir-spectroscopy" class="n B"><rect x="108" y="503" width="80" height="19" rx="4"/><text x="148" y="515.7" font-size="9" textLength="60" lengthAdjust="spacingAndGlyphs">IR spectroscopy</text></g>
<g id="n-chemisorption" class="n P"><rect x="333" y="508" width="84" height="18" rx="4"/><text x="375" y="520.3" font-size="9.5" textLength="63" lengthAdjust="spacingAndGlyphs">Chemisorption</text></g>
<g id="n-surface-analysis" class="n G"><rect x="569" y="516" width="95" height="21" rx="4"/><text x="616.5" y="530.4" font-size="11" textLength="75" lengthAdjust="spacingAndGlyphs">Surface analysis</text></g>
<g id="n-potentiodynamic-polarization" class="n G"><rect x="184" y="523" width="199" height="25" rx="5"/><text x="283.5" y="540.4" font-size="14" textLength="177" lengthAdjust="spacingAndGlyphs">Potentiodynamic polarization</text></g>
<g id="n-dft" class="n Y"><rect x="389" y="534" width="40" height="23" rx="4"/><text x="409" y="550.1" font-size="13" textLength="21" lengthAdjust="spacingAndGlyphs">DFT</text></g>
<g id="n-inhibition" class="n TB"><rect x="633" y="543" width="85" height="28" rx="5"/><text x="675.5" y="562.6" font-size="16" textLength="64" lengthAdjust="spacingAndGlyphs">Inhibition</text></g>
<g id="n-biocorrosion" class="n Y"><rect x="744" y="541" width="67" height="17" rx="4"/><text x="777.5" y="552.8" font-size="9.5" textLength="49" lengthAdjust="spacingAndGlyphs">Biocorrosion</text></g>
<g id="n-zinc" class="n B"><rect x="855" y="550" width="37" height="19" rx="4"/><text x="873.5" y="562.8" font-size="9.5" textLength="17" lengthAdjust="spacingAndGlyphs">Zinc</text></g>
<g id="n-cooling-water" class="n P"><rect x="942" y="550" width="71" height="18" rx="4"/><text x="977.5" y="562.3" font-size="9.5" textLength="52" lengthAdjust="spacingAndGlyphs">Cooling water</text></g>
<g id="n-aluminium" class="n SG"><rect x="493" y="557" width="90" height="26" rx="5"/><text x="538" y="575.3" font-size="15" textLength="70" lengthAdjust="spacingAndGlyphs">Aluminium</text></g>
<g id="n-natural-product" class="n TB"><rect x="239" y="576" width="90" height="19" rx="4"/><text x="284" y="588.8" font-size="9.5" textLength="69" lengthAdjust="spacingAndGlyphs">Natural product</text></g>
<g id="n-polarization" class="n BP"><rect x="100" y="582" width="73" height="19" rx="4"/><text x="136.5" y="594.8" font-size="9.5" textLength="51" lengthAdjust="spacingAndGlyphs">Polarization</text></g>
<g id="n-thermodynamics" class="n TB"><rect x="405" y="583" width="95" height="19" rx="4"/><text x="452.5" y="595.8" font-size="9.5" textLength="74" lengthAdjust="spacingAndGlyphs">Thermodynamics</text></g>
<g id="n-electrochemical-methods" class="n Y"><rect x="694" y="583" width="132" height="19" rx="4"/><text x="760" y="595.8" font-size="9.5" textLength="108" lengthAdjust="spacingAndGlyphs">Electrochemical methods</text></g>
<g id="n-langmuir-adsorption" class="n SG"><rect x="511" y="588" width="135" height="24" rx="5"/><text x="578.5" y="604.9" font-size="14" textLength="117" lengthAdjust="spacingAndGlyphs">Langmuir adsorption</text></g>
<g id="n-water-treatment" class="n P"><rect x="868" y="603" width="83" height="18" rx="4"/><text x="909.5" y="615.3" font-size="9.5" textLength="65" lengthAdjust="spacingAndGlyphs">Water treatment</text></g>
<g id="n-nitric-acid" class="n YG"><rect x="450" y="607" width="58" height="18" rx="4"/><text x="479" y="619.3" font-size="9.5" textLength="38" lengthAdjust="spacingAndGlyphs">Nitric acid</text></g>
<g id="n-acid-solution" class="n TB"><rect x="352" y="618" width="100" height="25" rx="5"/><text x="402" y="635.8" font-size="15" textLength="78" lengthAdjust="spacingAndGlyphs">Acid solution</text></g>
<g id="n-optimization" class="n G"><rect x="605" y="638" width="77" height="19" rx="4"/><text x="643.5" y="650.8" font-size="9.5" textLength="55" lengthAdjust="spacingAndGlyphs">Optimization</text></g>
<g id="n-iron" class="n P"><rect x="785" y="638" width="36" height="19" rx="4"/><text x="803" y="650.8" font-size="9.5" textLength="16" lengthAdjust="spacingAndGlyphs">Iron</text></g>
<g id="n-impedance" class="n TB"><rect x="527" y="643" width="68" height="19" rx="4"/><text x="561" y="655.8" font-size="9.5" textLength="48" lengthAdjust="spacingAndGlyphs">Impedance</text></g>
<g id="n-hno3" class="n SG"><rect x="313" y="645" width="43" height="18" rx="4"/><text x="334.5" y="657.3" font-size="9.5" textLength="22" lengthAdjust="spacingAndGlyphs">HNO3</text></g>
<g id="n-essential-oil" class="n YG"><rect x="718" y="659" width="74" height="19" rx="4"/><text x="755" y="671.8" font-size="9.5" textLength="49" lengthAdjust="spacingAndGlyphs">Essential oil</text></g>
<g id="n-acid-inhibition" class="n TB"><rect x="212" y="670" width="91" height="23" rx="5"/><text x="257.5" y="686.1" font-size="13" textLength="73" lengthAdjust="spacingAndGlyphs">Acid inhibition</text></g>
<g id="n-azadirachta-indica" class="n P"><rect x="598" y="701" width="101" height="19" rx="4"/><text x="648.5" y="713.8" font-size="9.5" textLength="79" lengthAdjust="spacingAndGlyphs">Azadirachta indica</text></g>
<g id="n-electrochemical" class="n G"><rect x="422" y="705" width="91" height="19" rx="4"/><text x="467.5" y="718" font-size="10" textLength="68" lengthAdjust="spacingAndGlyphs">Electrochemical</text></g>
<g id="n-anova" class="n SG"><rect x="293" y="707" width="44" height="18" rx="4"/><text x="315" y="719.3" font-size="9.5" textLength="25" lengthAdjust="spacingAndGlyphs">Anova</text></g>
<g id="n-isotherm" class="n Y"><rect x="687" y="723" width="54" height="19" rx="4"/><text x="714" y="735.8" font-size="9.5" textLength="35" lengthAdjust="spacingAndGlyphs">Isotherm</text></g>
<g id="n-temkin-adsorption" class="n TB"><rect x="305" y="736" width="102" height="19" rx="4"/><text x="356" y="749" font-size="10" textLength="81" lengthAdjust="spacingAndGlyphs">Temkin adsorption</text></g>
<g id="n-protection" class="n P"><rect x="860" y="735" width="58" height="18" rx="4"/><text x="889" y="747.3" font-size="9.5" textLength="40" lengthAdjust="spacingAndGlyphs">Protection</text></g>
<g id="n-c38-steel" class="n TB"><rect x="465" y="760" width="53" height="18" rx="4"/><text x="491.5" y="772.3" font-size="9.5" textLength="34" lengthAdjust="spacingAndGlyphs">C38 steel</text></g>
<g id="n-corrosion-control" class="n P"><rect x="624" y="761" width="85" height="18" rx="4"/><text x="666.5" y="773.3" font-size="9.5" textLength="67" lengthAdjust="spacingAndGlyphs">Corrosion control</text></g>
<g id="n-temperature" class="n SG"><rect x="769" y="763" width="71" height="19" rx="4"/><text x="804.5" y="775.8" font-size="9.5" textLength="53" lengthAdjust="spacingAndGlyphs">Temperature</text></g>
<g id="n-brass" class="n SG"><rect x="539" y="770" width="40" height="19" rx="4"/><text x="559" y="782.8" font-size="9.5" textLength="20" lengthAdjust="spacingAndGlyphs">Brass</text></g>
<g id="n-physisorption" class="n Y"><rect x="402" y="778" width="72" height="19" rx="4"/><text x="438" y="790.8" font-size="9.5" textLength="53" lengthAdjust="spacingAndGlyphs">Physisorption</text></g>
</g>
<g id="legend">
<text class="lg" x="1075.5" y="698" textLength="283" lengthAdjust="spacingAndGlyphs">The color indicates the average</text>
<text class="lg" x="1075.5" y="727" textLength="205" lengthAdjust="spacingAndGlyphs">publication year of the</text>
<text class="lg" x="1075.5" y="757" textLength="225" lengthAdjust="spacingAndGlyphs">documents, in which the</text>
<text class="lg" x="1076" y="786" textLength="144" lengthAdjust="spacingAndGlyphs">keywords occur</text>
<rect x="937" y="804" width="300" height="60" rx="7" fill="#fff" stroke="#dcdcdc" stroke-width="1.2"/>
<rect x="946" y="812" width="280" height="16" fill="url(#gBar)"/>
<g stroke="#9a9a9a" stroke-width="1"><line x1="960" y1="824" x2="960" y2="834"/><line x1="1037" y1="824" x2="1037" y2="834"/><line x1="1114" y1="824" x2="1114" y2="834"/><line x1="1191" y1="824" x2="1191" y2="834"/></g>
<text class="tk" x="960" y="844">2012</text>
<text class="tk" x="1037" y="844">2014</text>
<text class="tk" x="1114" y="844">2016</text>
<text class="tk" x="1191" y="844">2018</text>
</g>
</svg>
